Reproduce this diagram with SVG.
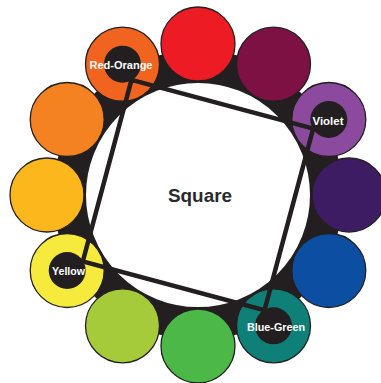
<svg xmlns="http://www.w3.org/2000/svg" width="381" height="383" viewBox="0 0 381 383">
<style>
.c{stroke:#231f20;stroke-width:1.3}
.hole{fill:#231f20}
.lbl{font-family:"Liberation Sans",Arial,sans-serif;font-weight:bold;font-size:11.5px;fill:#fff;text-anchor:middle}
.edge{stroke:#231f20;stroke-width:4.5;fill:none;stroke-linecap:round}
.title{font-family:"Liberation Sans",Arial,sans-serif;font-weight:bold;font-size:19px;fill:#2a2a2a;text-anchor:middle}
</style>
<rect width="381" height="383" fill="#fff"/>
<circle id="ring" cx="198" cy="195" r="128.5" fill="none" stroke="#231f20" stroke-width="33"/>
<g id="red"><circle class="c" cx="198" cy="44" r="37" fill="#ed1c24"/></g>
<g id="red-violet"><circle class="c" cx="273.5" cy="64.2" r="37" fill="#7d1144"/></g>
<g id="violet"><circle class="c" cx="328.8" cy="119.5" r="37" fill="#8c4a9f"/></g>
<g id="blue-violet"><circle class="c" cx="349" cy="195" r="37" fill="#3e1c64"/></g>
<g id="blue"><circle class="c" cx="328.8" cy="270.5" r="37" fill="#0c4fa2"/></g>
<g id="blue-green"><circle class="c" cx="273.5" cy="325.8" r="37" fill="#0f8077"/></g>
<g id="green"><circle class="c" cx="198" cy="346" r="37" fill="#4cb848"/></g>
<g id="yellow-green"><circle class="c" cx="122.5" cy="325.8" r="37" fill="#a6cb3a"/></g>
<g id="yellow"><circle class="c" cx="67.2" cy="270.5" r="37" fill="#f6eb3c"/></g>
<g id="yellow-orange"><circle class="c" cx="47" cy="195" r="37" fill="#fcb71c"/></g>
<g id="orange"><circle class="c" cx="67.2" cy="119.5" r="37" fill="#f58220"/></g>
<g id="red-orange"><circle class="c" cx="122.5" cy="64.2" r="37" fill="#f0641f"/></g>
<g id="connectors">
<polygon class="edge" points="131.5,79.8 313.2,128.5 264.5,310.2 82.8,261.5"/>
</g>
<g id="red-orange-label"><circle class="hole" cx="122.5" cy="64.2" r="18.5"/><text class="lbl" x="121" y="68.5" textLength="63" lengthAdjust="spacingAndGlyphs">Red-Orange</text></g>
<g id="violet-label"><circle class="hole" cx="328.8" cy="119.5" r="18.5"/><text class="lbl" x="328" y="124.5" textLength="31" lengthAdjust="spacingAndGlyphs">Violet</text></g>
<g id="blue-green-label"><circle class="hole" cx="273.5" cy="325.8" r="18.5"/><text class="lbl" x="276" y="331" textLength="58" lengthAdjust="spacingAndGlyphs">Blue-Green</text></g>
<g id="yellow-label"><circle class="hole" cx="67.2" cy="270.5" r="18.5"/><text class="lbl" x="68.5" y="275" textLength="33" lengthAdjust="spacingAndGlyphs">Yellow</text></g>
<g id="center"><text class="title" x="200" y="202" textLength="64" lengthAdjust="spacingAndGlyphs">Square</text></g>
</svg>
